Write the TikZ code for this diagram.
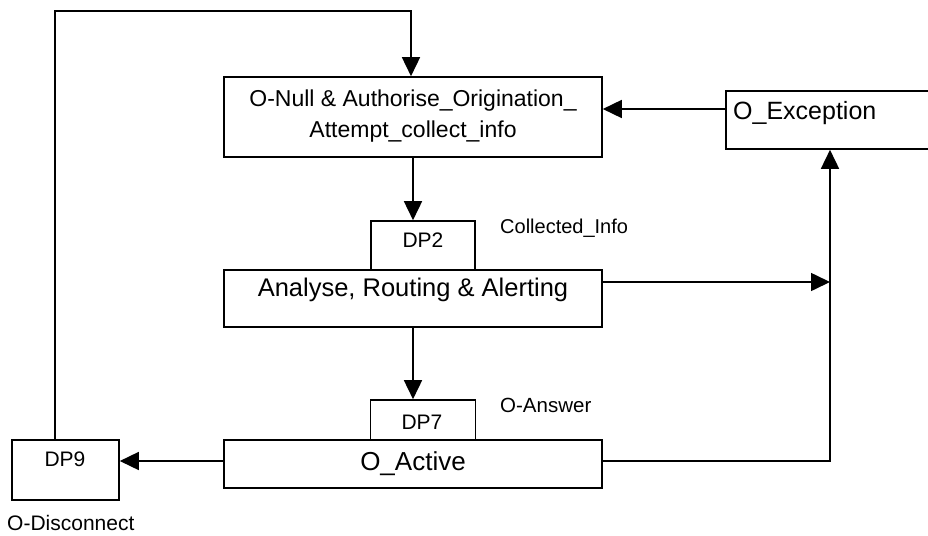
\documentclass[tikz,border=0pt]{standalone}
\usepackage{fontspec}
\setmainfont{Liberation Sans}
\usetikzlibrary{arrows.meta,calc}
\begin{document}
\begin{tikzpicture}[x=1pt,y=-1pt,
  box/.style={draw,line width=1.6pt,inner sep=0pt},
  txt/.style={inner sep=0pt,align=center},
  arr/.style={line width=1.6pt,-{Triangle[length=19pt,width=18pt]}},
  ln/.style={line width=1.6pt}]
\useasboundingbox (0,0) rectangle (928,535);
% boxes
\node[box,minimum width=378pt,minimum height=80pt] (top) at (413,117) {};
\node[box,minimum width=214pt,minimum height=58pt] (exc) at (833,120) {};
\node[box,minimum width=104pt,minimum height=49pt] (dp2) at (423,245.5) {};
\node[box,minimum width=378pt,minimum height=57pt] (ana) at (413,298.5) {};
\node[box,minimum width=105pt,minimum height=40pt] (dp7) at (423,420) {};
\node[box,minimum width=378pt,minimum height=48pt] (act) at (413,464) {};
\node[box,minimum width=107pt,minimum height=60pt] (dp9) at (65.5,470) {};
% texts
\node[txt,font=\fontsize{23}{31}\selectfont] (topT) at (413,116) {O-Null \& Authorise\_Origination\_\\Attempt\_collect\_info};
\node[txt,font=\fontsize{25}{30}\selectfont,anchor=west] (excT) at (733,113) {O\_Exception};
\node[txt,font=\fontsize{21}{24}\selectfont] (dp2T) at (423,240) {DP2};
\node[txt,font=\fontsize{25.5}{30}\selectfont] (anaT) at (413,290) {Analyse, Routing \& Alerting};
\node[txt,font=\fontsize{21}{24}\selectfont] (dp7T) at (422,422) {DP7};
\node[txt,font=\fontsize{26}{30}\selectfont] (actT) at (413,464) {O\_Active};
\node[txt,font=\fontsize{21}{24}\selectfont] (dp9T) at (65,459) {DP9};
\node[txt,font=\fontsize{20}{24}\selectfont,anchor=west] (colT) at (500,228) {Collected\_Info};
\node[txt,font=\fontsize{20.5}{24}\selectfont,anchor=west] (ansT) at (500,405) {O-Answer};
\node[txt,font=\fontsize{21}{24}\selectfont,anchor=west] (disT) at (7,523) {O-Disconnect};
% helper coordinates
\coordinate (lpA) at (55,11);
\coordinate (lpB) at (411,11);
\coordinate (rj) at (830,282);
\coordinate (rb) at (830,461);
\coordinate (ey) at (0,109);
% connectors
\draw[arr] (dp9.north -| lpA) -- (lpA) -- (lpB) -- (top.north -| lpB);
\draw[arr] (exc.west |- ey) -- (top.east |- ey);
\draw[arr] (top.south) -- (dp2.north -| top.south);
\draw[arr] (ana.east |- rj) -- (rj);
\draw[arr] (act.east |- rb) -- (rb) -- (exc.south -| rb);
\draw[arr] (ana.south) -- (dp7.north -| ana.south);
\draw[arr] (act.west |- rb) -- (dp9.east |- rb);
\end{tikzpicture}
\end{document}
